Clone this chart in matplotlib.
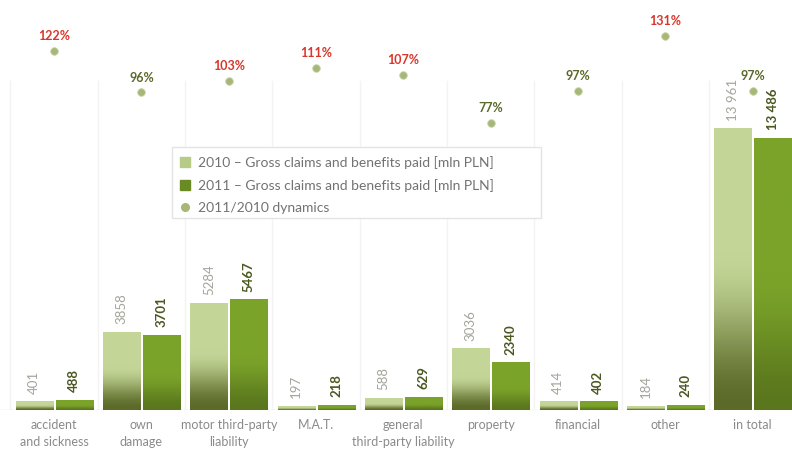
import numpy as np
import matplotlib
matplotlib.use("Agg")
import matplotlib.pyplot as plt
from matplotlib.colors import to_rgb
from matplotlib.lines import Line2D
from matplotlib.patches import Rectangle

plt.rcParams['font.family'] = ['Lato', 'DejaVu Sans']

categories = ["accident\nand sickness", "own\ndamage", "motor third-party\nliability", "M.A.T.",
              "general\nthird-party liability", "property", "financial", "other", "in total"]
claims_2010 = [401, 3858, 5284, 197, 588, 3036, 414, 184, 13961]
claims_2011 = [488, 3701, 5467, 218, 629, 2340, 402, 240, 13486]
dynamics = [122, 96, 103, 111, 107, 77, 97, 131, 97]

legend_labels = ["2010 \u2013 Gross claims and benefits paid [mln PLN]",
                 "2011 \u2013 Gross claims and benefits paid [mln PLN]",
                 "2011/2010 dynamics"]


def fmt(v):
    # space as thousands separator only for five-digit numbers
    return f"{v:,}".replace(",", " ") if v >= 10000 else str(v)


def gradient(top, bottom, split):
    # light/green on top, fading to a darker tone near the base
    t = np.linspace(0, 1, 200)
    f = np.clip(t / split, 0, 1)
    f = f * f * (3 - 2 * f)
    top, bottom = np.array(to_rgb(top)), np.array(to_rgb(bottom))
    cols = bottom + (top - bottom) * f[:, None]
    return cols[:, None, :]


fig = plt.figure(figsize=(7.92, 4.55), dpi=100)
W, H = 792, 455
ax = fig.add_axes([0, 1 - 409.5 / H, 1, (409.5 - 20) / H])
ax2 = ax.twinx()

x = np.arange(len(categories))
w = 0.424
off = 0.229

grad10 = gradient("#c4d697", "#5b6a28", 0.56)
grad11 = gradient("#7ba32a", "#5a771d", 0.5)

bars10 = ax.bar(x - off, claims_2010, w, color="#c4d697", zorder=2)
bars11 = ax.bar(x + off, claims_2011, w, color="#7ba32a", zorder=2)

for bars, g in ((bars10, grad10), (bars11, grad11)):
    for r in bars:
        x0, h = r.get_x(), r.get_height()
        im = ax.imshow(g, extent=[x0, x0 + r.get_width(), 0, h], aspect='auto',
                       origin='lower', zorder=3, interpolation='bilinear')
        im.set_clip_path(r)

# value labels above the bars
for xi, v in zip(x, claims_2010):
    ax.text(xi - off, v + 380, fmt(v), rotation=90, ha='center', va='bottom',
            fontsize=9.5, color="#a3a59a", zorder=4)
for xi, v in zip(x, claims_2011):
    ax.text(xi + off, v + 380, fmt(v), rotation=90, ha='center', va='bottom',
            fontsize=9.5, color="#4b5820", fontweight='bold', zorder=4)

ax.set_xlim(-0.62, 8.45)
ax.set_ylim(0, 389.5 / 0.02013)

# faint group separators and baseline
for s in np.arange(-0.5, 8, 1):
    ax.plot([s, s], [0, 16300], color="#f3f3f3", lw=1, zorder=0)
ax.axhline(0, color="#e4e4e4", lw=1, zorder=1)

# 2011/2010 dynamics dots with percent labels
ax2.scatter(x, dynamics, s=30, color="#a7b779", edgecolors="#c9d4a6", linewidths=0.6, zorder=5)
for xi, p in zip(x, dynamics):
    c = "#d8362a" if p > 100 else "#5b6a2b"
    ax2.text(xi, p + 5.5, f"{p}%", ha='center', va='bottom', fontsize=9,
             fontweight='bold', color=c)
ax2.set_ylim(100 - (409.5 - 86) / 1.61, 100 + (86 - 20) / 1.61)

for a in (ax, ax2):
    a.set_xticks([])
    a.set_yticks([])
    for sp in a.spines.values():
        sp.set_visible(False)

for xi, lab in zip(x, categories):
    ax.text(xi, -480, lab, ha='center', va='top', fontsize=9, color="#8a8a8a",
            linespacing=1.45)

# legend box
fig.patches.append(Rectangle((172 / W, 1 - 218 / H), (541 - 172) / W, (218 - 147) / H,
                             transform=fig.transFigure, facecolor="white",
                             edgecolor="#e4e4e4", lw=1, zorder=6))
handles = [
    Line2D([], [], ls='none', marker='s', markersize=7, color="#b7cb86"),
    Line2D([], [], ls='none', marker='s', markersize=7, color="#6a8a24"),
    Line2D([], [], ls='none', marker='o', markersize=5.5, color="#a7b779"),
]
leg = fig.legend(handles, legend_labels, loc='upper left',
                 bbox_to_anchor=(170 / W, 1 - 146 / H), frameon=False,
                 fontsize=10, labelcolor="#727272", handlelength=0.8,
                 handletextpad=0.5, labelspacing=0.72, borderpad=0.2)
leg.set_zorder(7)

fig.savefig("out.png", dpi=100)
